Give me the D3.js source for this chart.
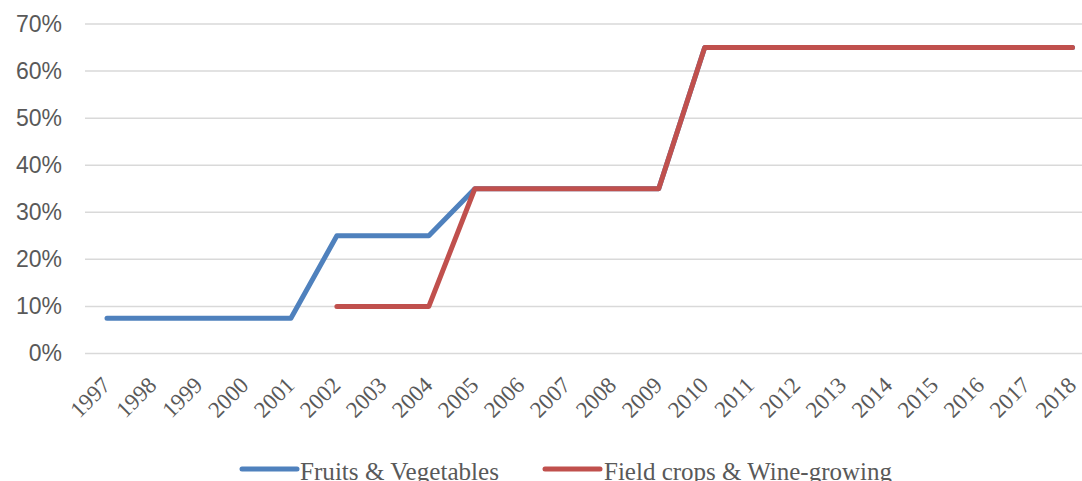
<!DOCTYPE html>
<html>
<head>
<meta charset="utf-8">
<script src="https://cdn.jsdelivr.net/npm/d3@7"></script>
<style>
  html, body { margin: 0; padding: 0; background: #fff; overflow: hidden; }
  svg { display: block; }
</style>
</head>
<body>
<div class="chart"></div>
<script>
// values
const years = ['1997', '1998', '1999', '2000', '2001', '2002', '2003', '2004', '2005', '2006', '2007',
  '2008', '2009', '2010', '2011', '2012', '2013', '2014', '2015', '2016', '2017', '2018'];

const fruitsVegetables = [0.075, 0.075, 0.075, 0.075, 0.075, 0.25, 0.25, 0.25, 0.35, 0.35, 0.35,
  0.35, 0.35, 0.65, 0.65, 0.65, 0.65, 0.65, 0.65, 0.65, 0.65, 0.65];

const fieldCropsWine = [null, null, null, null, null, 0.10, 0.10, 0.10, 0.35, 0.35, 0.35,
  0.35, 0.35, 0.65, 0.65, 0.65, 0.65, 0.65, 0.65, 0.65, 0.65, 0.65];

const yTicks = [0, 0.1, 0.2, 0.3, 0.4, 0.5, 0.6, 0.7];

const seriesNames = ['Fruits & Vegetables', 'Field crops & Wine-growing'];
const seriesColors = ['#4f81bd', '#c0504d'];

{
  const width = 1082;
  const height = 481;
  const plot = { left: 84, right: 1095.5, top: 24, bottom: 353.5 };

  const svg = d3.select('.chart')
    .append('svg')
    .attr('width', width)
    .attr('height', height);

  const xScale = d3.scaleBand()
    .domain(years)
    .range([plot.left, plot.right]);

  const xPos = d => xScale(d) + xScale.bandwidth() / 2;

  const yScale = d3.scaleLinear()
    .domain([0, 0.7])
    .range([plot.bottom, plot.top]);

  // gridlines
  svg.append('g')
    .attr('class', 'grid')
    .selectAll('line')
    .data(yTicks)
    .enter()
    .append('line')
    .attr('x1', plot.left + 1)
    .attr('x2', plot.right)
    .attr('y1', d => yScale(d))
    .attr('y2', d => yScale(d))
    .attr('stroke', '#d9d9d9')
    .attr('stroke-width', 1.5);

  // y axis labels
  const yAxis = d3.axisLeft(yScale)
    .tickValues(yTicks)
    .tickFormat(d3.format('.0%'))
    .tickSize(0)
    .tickPadding(0);

  svg.append('g')
    .attr('class', 'axis axis--y')
    .attr('transform', 'translate(62,0)')
    .call(yAxis)
    .call(g => g.select('.domain').remove())
    .selectAll('text')
    .attr('fill', '#595959')
    .style('font-family', '"Liberation Sans", Arial, sans-serif')
    .style('font-size', '23px');

  // x axis labels (rotated)
  const xAxis = d3.axisBottom(xScale)
    .tickSize(0)
    .tickPadding(0);

  svg.append('g')
    .attr('class', 'axis axis--x')
    .attr('transform', `translate(0,${plot.bottom})`)
    .call(xAxis)
    .call(g => g.select('.domain').remove())
    .selectAll('text')
    .attr('fill', '#595959')
    .attr('y', 0)
    .attr('dy', 0)
    .attr('text-anchor', 'end')
    .attr('transform', 'translate(5,33) rotate(-45)')
    .style('font-family', '"Liberation Serif", "DejaVu Serif", serif')
    .style('font-size', '23px');

  // lines
  const allSeries = [fruitsVegetables, fieldCropsWine];

  const line = d3.line()
    .defined(d => d.value !== null)
    .x(d => xPos(d.year))
    .y(d => yScale(d.value));

  svg.append('g')
    .attr('class', 'lines')
    .selectAll('path')
    .data(allSeries)
    .enter()
    .append('path')
    .attr('d', vals => line(vals.map((v, i) => ({ year: years[i], value: v }))))
    .attr('fill', 'none')
    .attr('stroke', (d, i) => seriesColors[i])
    .attr('stroke-width', 5)
    .attr('stroke-linecap', 'round')
    .attr('stroke-linejoin', 'round');

  // legend (bottom, partly cut off like the reference)
  const legendX = [242, 545];
  const legendTextLen = [199, 288];
  const legendY = 469;

  const legend = svg.append('g')
    .attr('class', 'legend')
    .selectAll('g')
    .data(seriesNames)
    .enter()
    .append('g')
    .attr('transform', (d, i) => `translate(${legendX[i]},${legendY})`);

  legend.append('line')
    .attr('x1', 0)
    .attr('x2', 55)
    .attr('stroke', (d, i) => seriesColors[i])
    .attr('stroke-width', 5)
    .attr('stroke-linecap', 'round');

  legend.append('text')
    .attr('x', (d, i) => (i === 0 ? 58 : 59))
    .attr('y', 11)
    .attr('fill', '#595959')
    .attr('textLength', (d, i) => legendTextLen[i])
    .attr('lengthAdjust', 'spacingAndGlyphs')
    .style('font-family', '"Liberation Serif", "DejaVu Serif", serif')
    .style('font-size', '25px')
    .text(d => d);
}
</script>
</body>
</html>
